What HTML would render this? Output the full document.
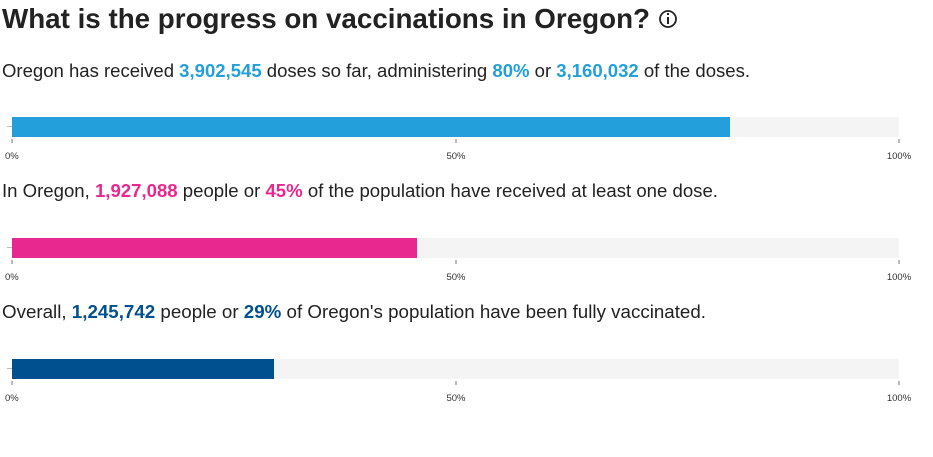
<!DOCTYPE html>
<html><head><meta charset="utf-8"><style>
html,body{margin:0;padding:0;background:#fff;width:933px;height:457px;overflow:hidden}
text{font-family:"Liberation Sans",sans-serif}
</style></head><body>
<svg width="933" height="457" xmlns="http://www.w3.org/2000/svg">
<text x="2" y="28" font-size="28" font-weight="bold" fill="#222" textLength="648" lengthAdjust="spacingAndGlyphs">What is the progress on vaccinations in Oregon?</text>
<circle cx="668" cy="19" r="8" fill="none" stroke="#222" stroke-width="1.8"/>
<rect x="667" y="17" width="2" height="7" fill="#222"/><rect x="667" y="13" width="2" height="2" fill="#222"/>

<text x="2" y="77" font-size="18" fill="#222" textLength="748" lengthAdjust="spacingAndGlyphs">Oregon has received <tspan fill="#239fdb" font-weight="bold">3,902,545</tspan> doses so far, administering <tspan fill="#239fdb" font-weight="bold">80%</tspan> or <tspan fill="#239fdb" font-weight="bold">3,160,032</tspan> of the doses.</text>
<text x="2" y="197" font-size="18" fill="#222" textLength="716" lengthAdjust="spacingAndGlyphs">In Oregon, <tspan fill="#e8288f" font-weight="bold">1,927,088</tspan> people or <tspan fill="#e8288f" font-weight="bold">45%</tspan> of the population have received at least one dose.</text>
<text x="2" y="318" font-size="18" fill="#222" textLength="704" lengthAdjust="spacingAndGlyphs">Overall, <tspan fill="#00508f" font-weight="bold">1,245,742</tspan> people or <tspan fill="#00508f" font-weight="bold">29%</tspan> of Oregon's population have been fully vaccinated.</text>

<g>
<rect x="12" y="117" width="887" height="20" fill="#f4f4f4"/>
<rect x="12" y="117" width="718" height="20" fill="#239fdb"/>
<rect x="7" y="126" width="5" height="1" fill="#bbb"/>
<rect x="11" y="139" width="2" height="4" fill="#bbb"/><rect x="455" y="139" width="2" height="4" fill="#bbb"/><rect x="898" y="139" width="2" height="4" fill="#bbb"/>
<text x="5" y="159" font-size="9.5" fill="#333">0%</text><text x="456" y="159" font-size="9.5" fill="#333" text-anchor="middle">50%</text><text x="899" y="159" font-size="9.5" fill="#333" text-anchor="middle">100%</text>
</g>
<g>
<rect x="12" y="238" width="887" height="20" fill="#f4f4f4"/>
<rect x="12" y="238" width="405" height="20" fill="#e8288f"/>
<rect x="7" y="247" width="5" height="1" fill="#bbb"/>
<rect x="11" y="260" width="2" height="4" fill="#bbb"/><rect x="455" y="260" width="2" height="4" fill="#bbb"/><rect x="898" y="260" width="2" height="4" fill="#bbb"/>
<text x="5" y="280" font-size="9.5" fill="#333">0%</text><text x="456" y="280" font-size="9.5" fill="#333" text-anchor="middle">50%</text><text x="899" y="280" font-size="9.5" fill="#333" text-anchor="middle">100%</text>
</g>
<g>
<rect x="12" y="359" width="887" height="20" fill="#f4f4f4"/>
<rect x="12" y="359" width="262" height="20" fill="#00508f"/>
<rect x="7" y="368" width="5" height="1" fill="#bbb"/>
<rect x="11" y="381" width="2" height="4" fill="#bbb"/><rect x="455" y="381" width="2" height="4" fill="#bbb"/><rect x="898" y="381" width="2" height="4" fill="#bbb"/>
<text x="5" y="401" font-size="9.5" fill="#333">0%</text><text x="456" y="401" font-size="9.5" fill="#333" text-anchor="middle">50%</text><text x="899" y="401" font-size="9.5" fill="#333" text-anchor="middle">100%</text>
</g>
</svg>
</body></html>
